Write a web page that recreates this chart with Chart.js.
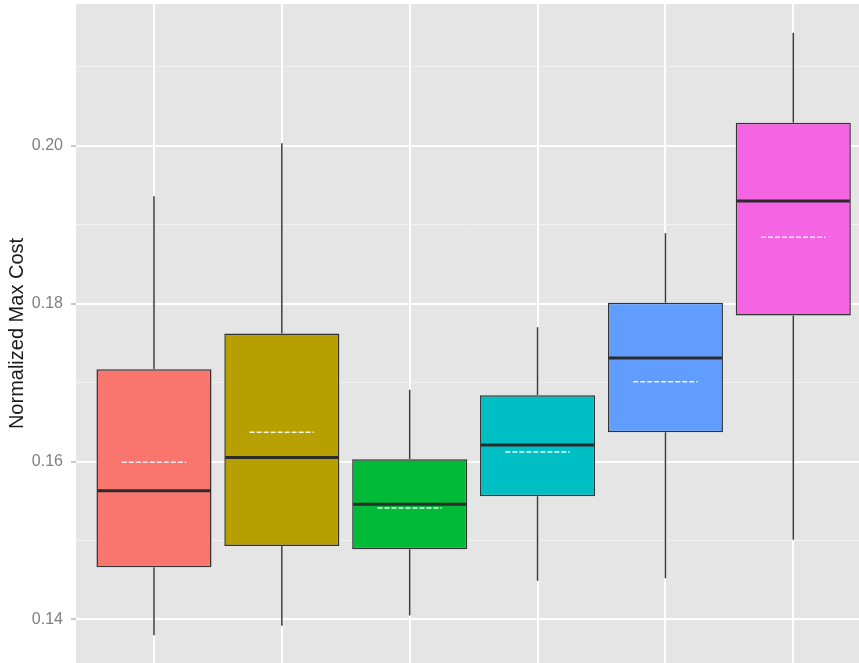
<!DOCTYPE html>
<html>
<head>
<meta charset="utf-8">
<script src="https://cdn.jsdelivr.net/npm/chart.js@4.4.1/dist/chart.umd.min.js"></script>
<style>
  html, body { margin: 0; padding: 0; background: #fff; overflow: hidden; }
</style>
</head>
<body>
<canvas id="myChart" width="859" height="663"></canvas>
<script>
var groups = ['1', '2', '3', '4', '5', '6'];
var colors = ['#F8766D', '#B79F00', '#00BA38', '#00BFC4', '#619CFF', '#F564E3'];

// five-number summaries plus the mean for each group
var lowWhisker  = [0.1380, 0.1392, 0.1405, 0.1449, 0.1452, 0.1501];
var lowerQuart  = [0.1466, 0.1493, 0.1489, 0.1556, 0.1637, 0.1785];
var medians     = [0.1563, 0.1605, 0.1546, 0.1621, 0.1731, 0.1930];
var upperQuart  = [0.1717, 0.1762, 0.1603, 0.1684, 0.1801, 0.2029];
var highWhisker = [0.1936, 0.2003, 0.1691, 0.1770, 0.1889, 0.2143];
var means       = [0.1599, 0.1637, 0.1541, 0.1612, 0.1701, 0.1884];

var yTicks  = [0.14, 0.15, 0.16, 0.17, 0.18, 0.19, 0.20, 0.21];
var yLabels = ['0.14', '', '0.16', '', '0.18', '', '0.20', ''];

var boxData = [];
for (var i = 0; i < groups.length; i++) {
    boxData.push({ x: i, y: [lowerQuart[i], upperQuart[i]] });
}

// grey panel, whiskers, medians and dashed means
var boxLines = {
    id: 'boxLines',
    beforeDraw: function(chart) {
        var a = chart.chartArea;
        var ctx = chart.ctx;
        ctx.save();
        ctx.fillStyle = '#E5E5E5';
        ctx.fillRect(a.left, a.top, a.right - a.left, a.bottom - a.top);
        ctx.restore();
    },
    beforeDatasetsDraw: function(chart) {
        var ctx = chart.ctx;
        var y = chart.scales.y;
        var bars = chart.getDatasetMeta(0).data;
        ctx.save();
        ctx.strokeStyle = '#3a3a3a';
        ctx.lineWidth = 1.5;
        for (var i = 0; i < bars.length; i++) {
            var x = bars[i].x;
            ctx.beginPath();
            ctx.moveTo(x, y.getPixelForValue(highWhisker[i]));
            ctx.lineTo(x, y.getPixelForValue(upperQuart[i]));
            ctx.moveTo(x, y.getPixelForValue(lowerQuart[i]));
            ctx.lineTo(x, y.getPixelForValue(lowWhisker[i]));
            ctx.stroke();
        }
        ctx.restore();
    },
    afterDatasetsDraw: function(chart) {
        var ctx = chart.ctx;
        var y = chart.scales.y;
        var bars = chart.getDatasetMeta(0).data;
        ctx.save();
        for (var i = 0; i < bars.length; i++) {
            var x = bars[i].x;
            var half = bars[i].width / 2;

            ctx.strokeStyle = '#2b2b2b';
            ctx.lineWidth = 3;
            ctx.setLineDash([]);
            ctx.beginPath();
            var ym = y.getPixelForValue(medians[i]);
            ctx.moveTo(x - half + 1, ym);
            ctx.lineTo(x + half - 1, ym);
            ctx.stroke();

            ctx.strokeStyle = 'rgba(255, 255, 255, 0.9)';
            ctx.lineWidth = 1.5;
            ctx.setLineDash([5, 2]);
            ctx.beginPath();
            var ya = y.getPixelForValue(means[i]);
            ctx.moveTo(x - half * 0.56, ya);
            ctx.lineTo(x + half * 0.56, ya);
            ctx.stroke();
        }
        ctx.restore();
    }
};

var ctx = document.getElementById('myChart').getContext('2d');
var chart = new Chart(ctx, {
    type: 'bar',
    data: {
        datasets: [{
            data: boxData,
            backgroundColor: colors,
            borderColor: '#333333',
            borderWidth: 1.5,
            borderSkipped: false,
            categoryPercentage: 1,
            barPercentage: 0.9
        }]
    },
    plugins: [boxLines],
    options: {
        responsive: false,
        animation: false,
        layout: { padding: { top: 4, left: 0, right: 0, bottom: 0 } },
        plugins: {
            legend: { display: false },
            tooltip: { enabled: false }
        },
        scales: {
            x: {
                type: 'linear',
                min: -0.61,
                max: 5.514,
                offset: false,
                afterBuildTicks: function(scale) {
                    scale.ticks = groups.map(function(g, i) { return { value: i }; });
                },
                afterFit: function(scale) {
                    scale.height = 0;
                    scale.paddingLeft = 0;
                    scale.paddingRight = 0;
                },
                ticks: { display: false },
                grid: { color: '#ffffff', lineWidth: 2, drawTicks: false, offset: false },
                border: { display: false }
            },
            y: {
                min: 0.13448,
                max: 0.21795,
                afterBuildTicks: function(scale) {
                    scale.ticks = yTicks.map(function(v) { return { value: v }; });
                },
                afterFit: function(scale) {
                    scale.width = 76;
                    scale.paddingTop = 0;
                    scale.paddingBottom = 0;
                },
                ticks: {
                    callback: function(value, index) { return yLabels[index]; },
                    color: '#7f7f7f',
                    padding: 8,
                    font: { family: 'Liberation Sans, Arial, sans-serif', size: 16 }
                },
                grid: {
                    color: function(c) { return yLabels[c.index] ? '#ffffff' : '#F2F2F2'; },
                    lineWidth: function(c) { return yLabels[c.index] ? 2 : 1; },
                    tickColor: function(c) { return yLabels[c.index] ? '#c8c8c8' : 'rgba(0,0,0,0)'; },
                    tickLength: 5
                },
                border: { display: false },
                title: {
                    display: true,
                    text: 'Normalized Max Cost',
                    color: '#1a1a1a',
                    padding: { top: 5, bottom: 0 },
                    font: { family: 'Liberation Sans, Arial, sans-serif', size: 20 }
                }
            }
        }
    }
});
</script>
</body>
</html>
